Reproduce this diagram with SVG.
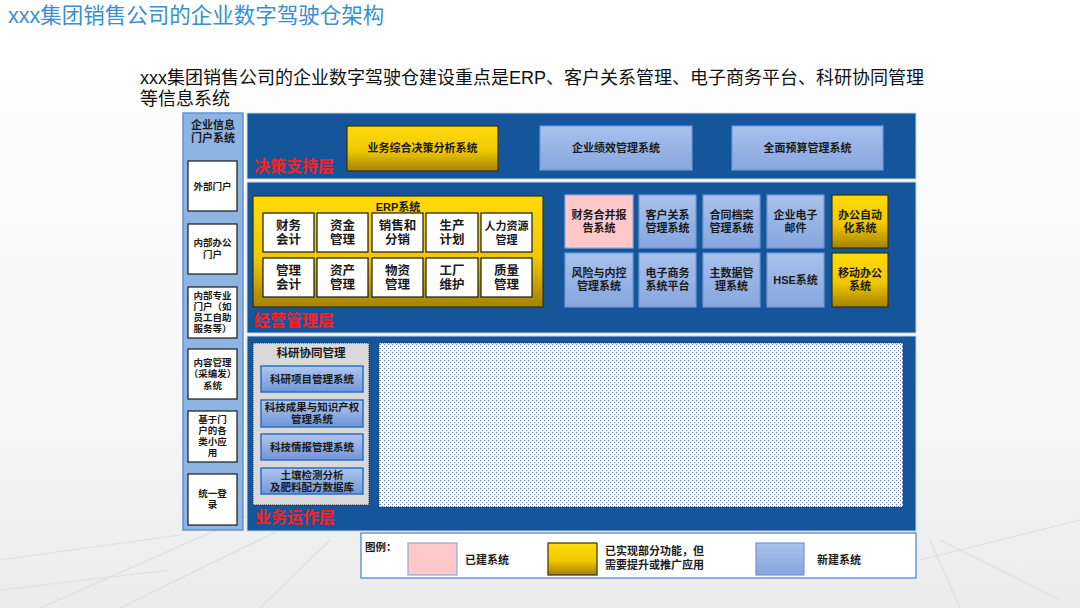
<svg xmlns="http://www.w3.org/2000/svg" width="1080" height="608" viewBox="0 0 1080 608">
<defs>
<linearGradient id="bg" x1="0" y1="0" x2="0" y2="1"><stop offset="0" stop-color="#ffffff"/><stop offset="0.7" stop-color="#f6f6f6"/><stop offset="1" stop-color="#ebebeb"/></linearGradient>
<linearGradient id="gold" x1="0" y1="0" x2="0" y2="1"><stop offset="0" stop-color="#ffdb0a"/><stop offset="0.55" stop-color="#f0c800"/><stop offset="1" stop-color="#a48200"/></linearGradient>
<linearGradient id="blue" x1="0" y1="0" x2="0" y2="1"><stop offset="0" stop-color="#a9c1ec"/><stop offset="1" stop-color="#86a6de"/></linearGradient>
<linearGradient id="btn" x1="0" y1="0" x2="0" y2="1"><stop offset="0" stop-color="#b0c7ee"/><stop offset="1" stop-color="#6f95d8"/></linearGradient>
<pattern id="dots" width="4" height="4" patternUnits="userSpaceOnUse"><rect width="4" height="4" fill="#ffffff"/><rect x="0" y="0" width="1.1" height="1.1" fill="#6483b8"/><rect x="2" y="2" width="1.1" height="1.1" fill="#6483b8"/></pattern>
<style>
text{font-family:'Liberation Sans','Noto Sans CJK SC',sans-serif}
.band{fill:#15569a;stroke:#c3d6ee;stroke-width:1}
.gold{fill:url(#gold);stroke:#3b3000;stroke-width:1.2}
.lb{fill:url(#blue);stroke:#6d98da;stroke-width:1.2}
.pink{fill:#ffc9cb;stroke:#8eaadb;stroke-width:1.2}
.wbox{fill:#ffffff;stroke:#1a1a1a;stroke-width:1.2}
.btn{fill:url(#btn);stroke:#2b6fc4;stroke-width:1.5}
.t{font-weight:bold;fill:#1a1a1a;text-anchor:middle}
.s11{font-size:11px}
.s12{font-size:12.5px}
.s9{font-size:9.5px}
.s10{font-size:10.5px}
.red{font-size:16px;font-weight:bold;fill:#ff1e1e}
.lg{font-size:11px;font-weight:bold;fill:#1a1a1a}
</style>
</defs>
<rect width="1080" height="608" fill="url(#bg)"/>
<g stroke="#dcdcdc" stroke-width="1.2" fill="none" opacity="0.8">
<path d="M120 608 L300 520"/><path d="M40 608 L250 515"/><path d="M260 608 L330 540"/><path d="M960 608 L930 540"/><path d="M1060 600 L940 540"/><path d="M0 560 L180 535"/><path d="M920 560 L1080 520"/><path d="M0 590 L170 570"/>
</g>
<text x="8" y="23" font-size="21.5" fill="#3a8fd2">xxx集团销售公司的企业数字驾驶仓架构</text>
<text x="140" y="84" font-size="18" fill="#111">xxx集团销售公司的企业数字驾驶仓建设重点是ERP、客户关系管理、电子商务平台、科研协同管理</text>
<text x="140" y="105" font-size="18" fill="#111">等信息系统</text>

<g id="portal">
<rect x="183" y="113" width="60" height="417" fill="#8db4e2" stroke="#5f93d2" stroke-width="1.5"/>
<text class="t s11" x="213" y="129">企业信息</text>
<text class="t s11" x="213" y="142">门户系统</text>
</g>
<g id="p1"><rect class="wbox" x="188" y="161" width="49" height="50"/><text class="t s9" x="212.5" y="190">外部门户</text></g>
<g id="p2"><rect class="wbox" x="188" y="224" width="49" height="50"/><text class="t s9" x="212.5" y="246">内部办公</text><text class="t s9" x="212.5" y="258">门户</text></g>
<g id="p3"><rect class="wbox" x="188" y="287" width="49" height="51"/><text class="t s9" x="212.5" y="299">内部专业</text><text class="t s9" x="212.5" y="310">门户（如</text><text class="t s9" x="212.5" y="321">员工自助</text><text class="t s9" x="212.5" y="332">服务等）</text></g>
<g id="p4"><rect class="wbox" x="188" y="349" width="49" height="50"/><text class="t s9" x="212.5" y="366">内容管理</text><text class="t s9" x="212.5" y="377">（采编发）</text><text class="t s9" x="212.5" y="389">系统</text></g>
<g id="p5"><rect class="wbox" x="188" y="411" width="49" height="51"/><text class="t s9" x="212.5" y="423">基于门</text><text class="t s9" x="212.5" y="434">户的各</text><text class="t s9" x="212.5" y="445">类小应</text><text class="t s9" x="212.5" y="456">用</text></g>
<g id="p6"><rect class="wbox" x="188" y="474" width="49" height="51"/><text class="t s9" x="212.5" y="497">统一登</text><text class="t s9" x="212.5" y="508">录</text></g>

<g id="layer-decision">
<rect class="band" x="247" y="113" width="669" height="66"/>
<text class="red" x="254" y="172">决策支持层</text>
</g>
<g id="d1"><rect class="gold" x="347" y="126" width="151" height="45"/><text class="t s11" x="422.5" y="152">业务综合决策分析系统</text></g>
<g id="d2"><rect class="lb" x="540" y="126" width="152" height="44"/><text class="t s11" x="616" y="152">企业绩效管理系统</text></g>
<g id="d3"><rect class="lb" x="732" y="126" width="151" height="44"/><text class="t s11" x="807.5" y="152">全面预算管理系统</text></g>

<g id="layer-ops">
<rect class="band" x="247" y="182" width="669" height="151"/>
<text class="red" x="254" y="326">经营管理层</text>
</g>
<g id="erp">
<rect class="gold" x="253" y="196" width="290" height="111"/>
<text class="t s11" x="398" y="211">ERP系统</text>
</g>
<g id="e1"><rect class="wbox" x="263" y="213" width="51" height="39"/><text class="t s12" x="288.5" y="230">财务</text><text class="t s12" x="288.5" y="244">会计</text></g>
<g id="e2"><rect class="wbox" x="317" y="213" width="51" height="39"/><text class="t s12" x="342.5" y="230">资金</text><text class="t s12" x="342.5" y="244">管理</text></g>
<g id="e3"><rect class="wbox" x="372" y="213" width="51" height="39"/><text class="t s12" x="397.5" y="230">销售和</text><text class="t s12" x="397.5" y="244">分销</text></g>
<g id="e4"><rect class="wbox" x="426" y="213" width="52" height="39"/><text class="t s12" x="452" y="230">生产</text><text class="t s12" x="452" y="244">计划</text></g>
<g id="e5"><rect class="wbox" x="481" y="213" width="51" height="39"/><text class="t s11" x="506.5" y="230">人力资源</text><text class="t s11" x="506.5" y="244">管理</text></g>
<g id="e6"><rect class="wbox" x="263" y="258" width="51" height="39"/><text class="t s12" x="288.5" y="275">管理</text><text class="t s12" x="288.5" y="289">会计</text></g>
<g id="e7"><rect class="wbox" x="317" y="258" width="51" height="39"/><text class="t s12" x="342.5" y="275">资产</text><text class="t s12" x="342.5" y="289">管理</text></g>
<g id="e8"><rect class="wbox" x="372" y="258" width="51" height="39"/><text class="t s12" x="397.5" y="275">物资</text><text class="t s12" x="397.5" y="289">管理</text></g>
<g id="e9"><rect class="wbox" x="426" y="258" width="52" height="39"/><text class="t s12" x="452" y="275">工厂</text><text class="t s12" x="452" y="289">维护</text></g>
<g id="e10"><rect class="wbox" x="481" y="258" width="51" height="39"/><text class="t s12" x="506.5" y="275">质量</text><text class="t s12" x="506.5" y="289">管理</text></g>

<g id="m1"><rect class="pink" x="565" y="195" width="68" height="53"/><text class="t s11" x="599" y="219">财务合并报</text><text class="t s11" x="599" y="232">告系统</text></g>
<g id="m2"><rect class="lb" x="639" y="195" width="57" height="53"/><text class="t s11" x="667.5" y="219">客户关系</text><text class="t s11" x="667.5" y="232">管理系统</text></g>
<g id="m3"><rect class="lb" x="703" y="195" width="57" height="53"/><text class="t s11" x="731.5" y="219">合同档案</text><text class="t s11" x="731.5" y="232">管理系统</text></g>
<g id="m4"><rect class="lb" x="767" y="195" width="57" height="53"/><text class="t s11" x="795.5" y="219">企业电子</text><text class="t s11" x="795.5" y="232">邮件</text></g>
<g id="m5"><rect class="gold" x="832" y="195" width="56" height="53"/><text class="t s11" x="860" y="219">办公自动</text><text class="t s11" x="860" y="232">化系统</text></g>
<g id="m6"><rect class="lb" x="565" y="253" width="68" height="54"/><text class="t s11" x="599" y="277">风险与内控</text><text class="t s11" x="599" y="290">管理系统</text></g>
<g id="m7"><rect class="lb" x="639" y="253" width="57" height="54"/><text class="t s11" x="667.5" y="277">电子商务</text><text class="t s11" x="667.5" y="290">系统平台</text></g>
<g id="m8"><rect class="lb" x="703" y="253" width="57" height="54"/><text class="t s11" x="731.5" y="277">主数据管</text><text class="t s11" x="731.5" y="290">理系统</text></g>
<g id="m9"><rect class="lb" x="767" y="253" width="57" height="54"/><text class="t s11" x="795.5" y="284">HSE系统</text></g>
<g id="m10"><rect class="gold" x="832" y="253" width="56" height="54"/><text class="t s11" x="860" y="277">移动办公</text><text class="t s11" x="860" y="290">系统</text></g>

<g id="layer-biz">
<rect class="band" x="247" y="336" width="669" height="195"/>
<rect x="379" y="343" width="524" height="164" fill="url(#dots)" stroke="#1d3d6e" stroke-width="1" stroke-dasharray="1 1"/>
<text class="red" x="255" y="523">业务运作层</text>
</g>
<g id="research">
<rect x="253" y="343" width="116" height="162" fill="#d9d9d9" stroke="#2a2a2a" stroke-width="1" stroke-dasharray="1 1"/>
<text class="t" font-size="11.5" x="311" y="357">科研协同管理</text>
</g>
<g id="r1"><rect class="btn" x="261" y="366" width="102" height="26"/><text class="t s10" x="312" y="383">科研项目管理系统</text></g>
<g id="r2"><rect class="btn" x="261" y="400" width="102" height="27"/><text class="t s10" x="312" y="411">科技成果与知识产权</text><text class="t s10" x="312" y="423">管理系统</text></g>
<g id="r3"><rect class="btn" x="261" y="434" width="102" height="26"/><text class="t s10" x="312" y="451">科技情报管理系统</text></g>
<g id="r4"><rect class="btn" x="261" y="468" width="102" height="26"/><text class="t s10" x="312" y="479">土壤检测分析</text><text class="t s10" x="312" y="491">及肥料配方数据库</text></g>

<g id="legend">
<rect x="361" y="533" width="555" height="45" fill="#ffffff" stroke="#4a7fc4" stroke-width="1.2"/>
<text x="365" y="551" font-size="10.5" font-weight="bold" fill="#1a1a1a">图例：</text>
<rect class="pink" x="408" y="543" width="49" height="32"/>
<text class="lg" x="465" y="564">已建系统</text>
<rect class="gold" x="548" y="543" width="49" height="32"/>
<text class="lg" x="605" y="555">已实现部分功能，但</text>
<text class="lg" x="605" y="569">需要提升或推广应用</text>
<rect class="lb" x="756" y="543" width="48" height="32"/>
<text class="lg" x="817" y="564">新建系统</text>
</g>
</svg>
